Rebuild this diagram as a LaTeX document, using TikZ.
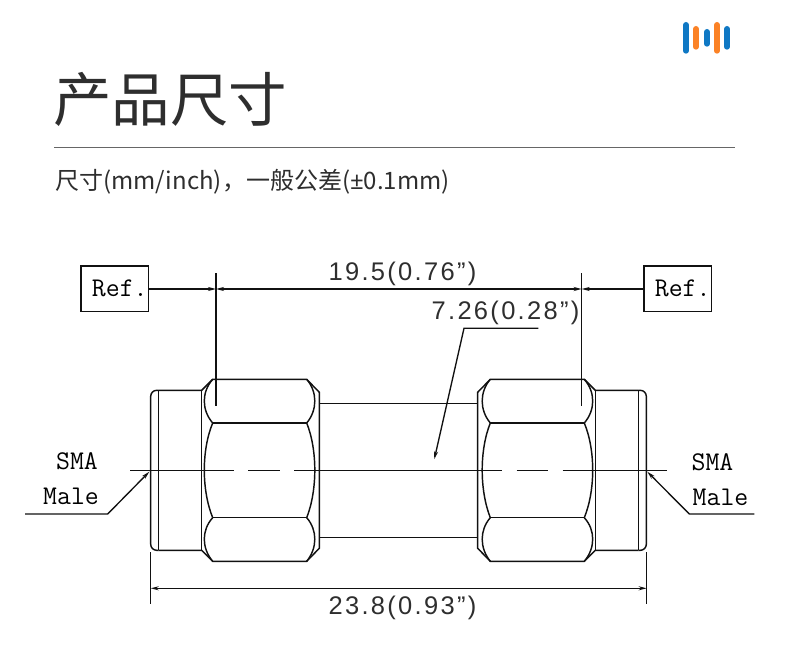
\documentclass[tikz,border=0pt]{standalone}
\usepackage{fontspec}
\setmainfont{Liberation Sans}
\setmonofont{Latin Modern Mono}
\newfontfamily\cjk{Noto Sans CJK SC}
\newfontfamily\latinnoto{Noto Sans}
\newfontfamily\dimfont[LetterSpace=9]{Liberation Sans}
\usetikzlibrary{arrows.meta}
\definecolor{logoblue}{HTML}{0F78C4}
\definecolor{logoorange}{HTML}{FB8226}
\definecolor{ink}{HTML}{111111}
\definecolor{titleink}{HTML}{2E2E2E}
\tikzset{
  part/.style={line width=1.45pt,draw=ink},
  thin part/.style={line width=1.4pt,draw=ink},
  dimtip/.style={-{Stealth[length=8pt,width=4pt]},line width=1.35pt,draw=ink},
  dimboth/.style={{Stealth[length=8pt,width=4pt]}-{Stealth[length=8pt,width=4pt]},line width=1.35pt,draw=ink},
  dimlabel/.style={font=\fontsize{25.5}{27}\selectfont\dimfont,text=titleink,inner sep=0pt},
  reflabel/.style={font=\fontsize{27}{30}\selectfont\ttfamily,text=black,inner sep=0pt},
  refbox/.style={draw=ink,line width=1.3pt,minimum width=67.5pt,minimum height=45.5pt,inner sep=0pt,font=\fontsize{27}{30}\selectfont\ttfamily,text=black},
  barblue/.style={line width=6pt,line cap=round,draw=logoblue},
  barorange/.style={line width=6pt,line cap=round,draw=logoorange}
}
\newcommand{\connectorshape}{%
  \draw[part] (158.3,390.3) -- (201.7,390.3) -- (212.7,379.3) -- (306.7,379.3) -- (319.3,392.3) -- (319.3,548.3) -- (306.7,561.3) -- (212.7,561.3) -- (201.7,550.3) -- (158.3,550.3);
  \draw[part] (158.3,390.3) -- (158.3,550.3);
  \draw[part,rounded corners=6pt] (158.3,390.3) -| (150.7,550.3) -- (158.3,550.3);
  \draw[part] (201.7,390.3) -- (201.7,550.3);
  \draw[part] (212.7,423) -- (306.7,423) (212.7,517.7) -- (306.7,517.7);
  \draw[part] (212.7,379.3) .. controls (201.5,392) and (201.5,410) .. (212.7,423);
  \draw[part] (212.7,423) .. controls (201.5,450) and (201.5,490) .. (212.7,517.7);
  \draw[part] (212.7,517.7) .. controls (201.5,530) and (201.5,548) .. (212.7,561.3);
  \draw[part] (306.7,379.3) .. controls (317.5,392) and (317.5,410) .. (306.7,423);
  \draw[part] (306.7,423) .. controls (317.5,450) and (317.5,490) .. (306.7,517.7);
  \draw[part] (306.7,517.7) .. controls (317.5,530) and (317.5,548) .. (306.7,561.3);
}
\begin{document}
\begin{tikzpicture}[x=1pt,y=-1pt]
\useasboundingbox (0,0) rectangle (790,671);
% logo
\draw[barblue] (686,25) -- (686,50.7);
\draw[barorange] (696,29) -- (696,46.7);
\draw[barblue] (707,32) -- (707,43.7);
\draw[barorange] (717,25) -- (717,50.7);
\draw[barblue] (727,29) -- (727,46.7);
% heading
\node[anchor=west,inner sep=0pt,text=titleink] (title) at (53,99.5) {\fontsize{58.5}{61}\selectfont\cjk 产品尺寸};
\draw[draw=black!60,line width=1pt] (54,148) -- (735,148);
\node[anchor=west,inner sep=0pt,text=titleink] (sub) at (55,182) {\fontsize{24}{27}\selectfont\cjk 尺寸(mm/inch)，一般公差({\latinnoto ±}0.1mm)};
% connector
\connectorshape
\begin{scope}[x=-1pt,xshift=797pt]
\connectorshape
\end{scope}
\draw[part] (319.3,403.7) -- (477.7,403.7) (319.3,537.3) -- (477.7,537.3);
% centre line
\draw[thin part] (130,470.3) -- (234.3,470.3) (248.3,470.3) -- (280,470.3) (294.3,470.3) -- (502.3,470.3) (516.7,470.3) -- (548.3,470.3) (562.7,470.3) -- (666.7,470.3);
% boxes
\node[refbox] (refl) at (114.8,288.8) {\hspace*{10pt}Ref.};
\node[refbox] (refr) at (677.7,288.8) {\hspace*{10pt}Ref.};
% extension lines
\coordinate (extla) at (216,273);
\coordinate (extlb) at (216,406);
\coordinate (extra) at (581.7,273);
\coordinate (extrb) at (581.7,406);
\draw[thin part] (extla) -- (extlb) (extra) -- (extrb);
\coordinate (dl) at (216,289);
\coordinate (dr) at (581.7,289);
\draw[dimtip] (refl.east |- dl) -- (dl);
\draw[dimtip] (refr.west |- dr) -- (dr);
\draw[dimboth] (dl) -- (dr);
\node[dimlabel] (d195) at (402.5,274) {19.5(0.76”)};
\node[dimlabel] (d726) at (505.5,313) {7.26(0.28”)};
\coordinate (la) at (538.3,328.3);
\coordinate (lb) at (464,328.3);
\coordinate (lc) at (434.3,459.3);
\draw[dimtip] (la) -- (lb) -- (lc);
% bottom dimension
\coordinate (bl) at (150.7,552.3);
\coordinate (blb) at (150.7,603.5);
\coordinate (br) at (646.7,552.3);
\coordinate (brb) at (646.7,603.5);
\draw[thin part] (bl) -- (blb) (br) -- (brb);
\coordinate (dbl) at (150.7,588.3);
\coordinate (dbr) at (646.7,588.3);
\draw[dimboth] (dbl) -- (dbr);
\node[dimlabel] (d238) at (402.5,608) {23.8(0.93”)};
% SMA labels
\node[reflabel] (smal) at (77,461) {SMA};
\node[reflabel] (mall) at (71,496) {Male};
\node[reflabel] (smar) at (712.5,462) {SMA};
\node[reflabel] (malr) at (720.5,497) {Male};
\coordinate (sa) at (25,514);
\coordinate (sb) at (107.7,514);
\coordinate (sc) at (149.3,471.7);
\draw[dimtip] (sa) -- (sb) -- (sc);
\coordinate (ra) at (754.3,514);
\coordinate (rb) at (689.3,514);
\coordinate (rc) at (647.3,471.7);
\draw[dimtip] (ra) -- (rb) -- (rc);
\end{tikzpicture}
\end{document}
